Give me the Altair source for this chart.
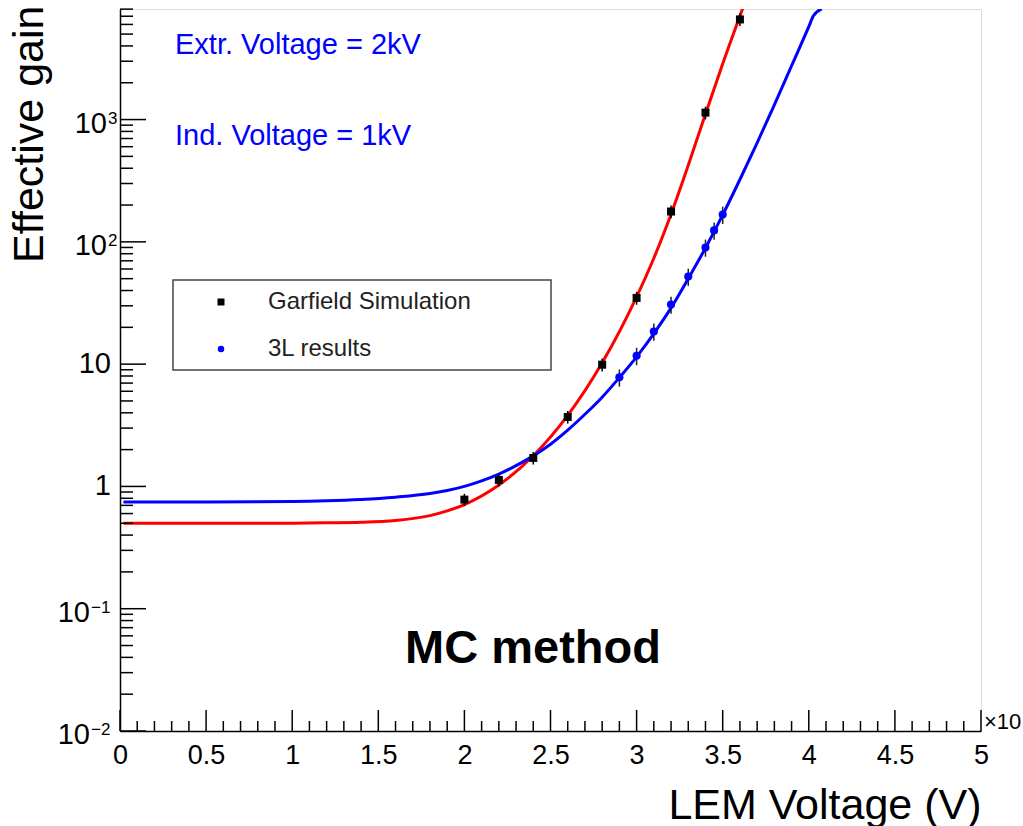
import altair as alt
import pandas as pd

# Garfield simulation points (LEM voltage in units of 10^3 V)
gar_x = [2.0, 2.2, 2.4, 2.6, 2.8, 3.0, 3.2, 3.4, 3.6]
gar_y = [0.78, 1.13, 1.71, 3.7, 9.9, 34.8, 177, 1140, 6590]
gar_err = [0.09, 0.13, 0.2, 0.44, 1.2, 4.2, 21, 135, 780]

# 3L results
res_x = [2.9, 3.0, 3.1, 3.2, 3.3, 3.4, 3.45, 3.5]
res_y = [7.8, 11.7, 18.5, 30.7, 52, 90, 124, 167]
res_err = [1.25, 1.9, 3.0, 4.9, 8.3, 14.4, 20, 27]

# fitted curves
red_x = [0.02, 0.5, 1.0, 1.2, 1.4, 1.6, 1.8, 1.9, 2.0, 2.2, 2.4, 2.6, 2.8, 3.0, 3.1, 3.2, 3.3, 3.4, 3.5, 3.62]
red_y = [0.500, 0.500, 0.501, 0.504, 0.509, 0.526, 0.577, 0.631, 0.710, 1.026, 1.782, 3.811, 10.26,
         35.56, 73.5, 168.3, 422.7, 1112, 2858, 8395]
blue_x = [0.02, 0.5, 1.0, 1.2, 1.4, 1.6, 1.8, 1.9, 2.0, 2.1, 2.2, 2.3, 2.4, 2.5, 2.6, 2.7, 2.8, 2.9,
          3.0, 3.1, 3.2, 3.3, 3.4, 3.5, 3.6, 3.7, 3.8, 3.9, 4.0, 4.026, 4.075]
blue_y = [0.745, 0.746, 0.752, 0.762, 0.782, 0.817, 0.875, 0.927, 1.0, 1.109, 1.259, 1.479, 1.778,
          2.213, 2.884, 3.890, 5.370, 7.762, 11.48, 17.78, 28.84, 50.12, 89.1, 166, 323.6, 645.7,
          1318, 2754, 5754, 7015, 8035]

# axis tick marks
x_major = [i * 0.5 for i in range(11)]
x_minor = [i / 10 for i in range(51) if i % 5 != 0]
y_major = [0.01, 0.1, 1, 10, 100, 1000]
y_minor = [m * 10.0 ** k for k in range(-2, 4) for m in range(2, 10) if m * 10.0 ** k <= 8020]

# y tick labels: value, mantissa text, exponent text
ylab_val = [1000, 100, 10, 1, 0.1, 0.01]
ylab_base = ["10", "10", "10", "1", "10", "10"]
ylab_exp = ["3", "2", "", "", "\u22121", "\u22122"]

W, H = 861, 722
FONT = "Liberation Sans"
YMAX = 8020

xs = alt.Scale(domain=[0, 5], nice=False, zero=False)
ys = alt.Scale(type="log", domain=[0.01, YMAX], nice=False)

x_axis = alt.Axis(values=x_major, format="~g", labelFontSize=27, labelColor="black", labelFont=FONT,
                  labelFlush=False, ticks=False, tickSize=0, labelPadding=11, domainColor="black",
                  domainWidth=1.5, grid=False, title="LEM Voltage (V)", titleFont=FONT, titleFontSize=43,
                  titleFontWeight="normal", titleColor="black", titleX=W, titleY=87,
                  titleAlign="right", titleBaseline="alphabetic", titleAnchor="end")
y_axis = alt.Axis(labels=False, ticks=False, tickSize=0, domainColor="black", domainWidth=1.5,
                  grid=False, title="Effective gain", titleFont=FONT, titleFontSize=43,
                  titleFontWeight="normal", titleColor="black", titleAngle=270, titleX=-78,
                  titleY=-4, titleAlign="right", titleBaseline="alphabetic")

red_df = pd.DataFrame({"v": red_x, "g": red_y})
blue_df = pd.DataFrame({"v": blue_x, "g": blue_y})
gar_df = pd.DataFrame({"v": gar_x, "g": gar_y,
                       "lo": [a - b for a, b in zip(gar_y, gar_err)],
                       "hi": [a + b for a, b in zip(gar_y, gar_err)]})
res_df = pd.DataFrame({"v": res_x, "g": res_y,
                       "lo": [a - b for a, b in zip(res_y, res_err)],
                       "hi": [a + b for a, b in zip(res_y, res_err)]})

red_line = alt.Chart(red_df).mark_line(color="#ff0000", strokeWidth=3, interpolate="monotone", clip=True).encode(
    x=alt.X("v:Q", scale=xs, axis=x_axis), y=alt.Y("g:Q", scale=ys, axis=y_axis))
blue_line = alt.Chart(blue_df).mark_line(color="#0000ff", strokeWidth=3, interpolate="monotone", clip=True).encode(
    x=alt.X("v:Q", scale=xs), y=alt.Y("g:Q", scale=ys))

gar_err_l = alt.Chart(gar_df).mark_rule(color="black", strokeWidth=1.5).encode(
    x=alt.X("v:Q", scale=xs), y=alt.Y("lo:Q", scale=ys), y2="hi:Q")
res_err_l = alt.Chart(res_df).mark_rule(color="#222222", strokeWidth=1.5).encode(
    x=alt.X("v:Q", scale=xs), y=alt.Y("lo:Q", scale=ys), y2="hi:Q")
gar_pts = alt.Chart(gar_df).mark_square(color="black", size=64, opacity=1).encode(
    x=alt.X("v:Q", scale=xs), y=alt.Y("g:Q", scale=ys))
res_pts = alt.Chart(res_df).mark_circle(color="#0000ff", size=66, opacity=1).encode(
    x=alt.X("v:Q", scale=xs), y=alt.Y("g:Q", scale=ys))

# inward ticks
ymaj = alt.Chart(pd.DataFrame({"t": y_major})).mark_rule(color="black", strokeWidth=1.5).encode(
    y=alt.Y("t:Q", scale=ys), x=alt.value(0), x2=alt.value(26))
ymin = alt.Chart(pd.DataFrame({"t": y_minor})).mark_rule(color="black", strokeWidth=1.5).encode(
    y=alt.Y("t:Q", scale=ys), x=alt.value(0), x2=alt.value(13))
xmaj = alt.Chart(pd.DataFrame({"t": x_major})).mark_rule(color="black", strokeWidth=1.5).encode(
    x=alt.X("t:Q", scale=xs), y=alt.value(H), y2=alt.value(H - 21))
xmin = alt.Chart(pd.DataFrame({"t": x_minor})).mark_rule(color="black", strokeWidth=1.5).encode(
    x=alt.X("t:Q", scale=xs), y=alt.value(H), y2=alt.value(H - 10))

# y tick labels with superscript exponents
ylab_layers = []
for val, b, e in zip(ylab_val, ylab_base, ylab_exp):
    d = pd.DataFrame({"t": [val], "b": [b], "e": [e]})
    if e == "":
        ylab_layers.append(alt.Chart(d).mark_text(font=FONT, fontSize=29, align="right", baseline="middle",
                                                   color="black").encode(
            y=alt.Y("t:Q", scale=ys), x=alt.value(-9), text="b:N"))
    else:
        right = -13 if len(e) == 1 else -30
        ylab_layers.append(alt.Chart(d).mark_text(font=FONT, fontSize=29, align="right", baseline="alphabetic",
                                                   dy=13, color="black").encode(
            y=alt.Y("t:Q", scale=ys), x=alt.value(right), text="b:N"))
        ylab_layers.append(alt.Chart(d).mark_text(font=FONT, fontSize=17, align="left", baseline="alphabetic",
                                                   dy=4, color="black").encode(
            y=alt.Y("t:Q", scale=ys), x=alt.value(right + 1), text="e:N"))

def label(txt, x, y, size, color="black", weight="normal", align="left", baseline="alphabetic"):
    return alt.Chart(pd.DataFrame({"s": [txt]})).mark_text(
        font=FONT, fontSize=size, color=color, fontWeight=weight, align=align, baseline=baseline
    ).encode(x=alt.value(x), y=alt.value(y), text="s:N")

texts = [
    label("Extr. Voltage = 2kV", 55, 45, 29, color="#0000ff"),
    label("Ind. Voltage = 1kV", 55, 136, 29, color="#0000ff"),
    label("MC method", 413, 654, 47, weight="bold", align="center"),
    label("\u00d710", 864, 720, 22),
]

# legend box
leg_box = alt.Chart(pd.DataFrame({"a": [0]})).mark_rect(fill="white", stroke="#444444", strokeWidth=1.5).encode(
    x=alt.value(53), x2=alt.value(431), y=alt.value(271), y2=alt.value(361))
leg_sq = alt.Chart(pd.DataFrame({"a": [0]})).mark_square(color="black", size=49, opacity=1).encode(
    x=alt.value(101), y=alt.value(293))
leg_ci = alt.Chart(pd.DataFrame({"a": [0]})).mark_circle(color="#0000ff", size=42, opacity=1).encode(
    x=alt.value(101), y=alt.value(340))
leg_t1 = label("Garfield Simulation", 148, 293, 24, color="#222222", baseline="middle")
leg_t2 = label("3L results", 148, 340, 24, color="#222222", baseline="middle")

chart = alt.layer(
    red_line, blue_line, ymaj, ymin, xmaj, xmin,
    leg_box, leg_sq, leg_ci, leg_t1, leg_t2,
    gar_err_l, res_err_l, gar_pts, res_pts,
    *ylab_layers, *texts,
).properties(
    width=W, height=H,
    autosize=alt.AutoSizeParams(type="none"),
    padding={"left": 120, "top": 9, "right": 42, "bottom": 95},
).configure_view(stroke="#555555", strokeWidth=1.5).configure(background="white")

chart.save("out.html", embed_options={"renderer": "svg", "actions": False})
